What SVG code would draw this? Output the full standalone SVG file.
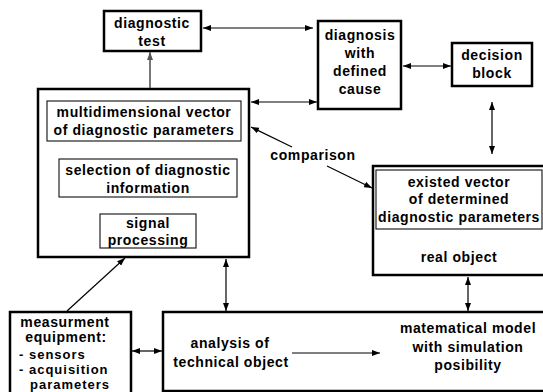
<svg xmlns="http://www.w3.org/2000/svg" width="543" height="392" viewBox="0 0 543 392">
<style>
text{font-family:"Liberation Sans",Arial,sans-serif;font-weight:bold;font-size:14px;letter-spacing:0.6px;fill:#000}
.c{text-anchor:middle}
.s{font-size:13px;letter-spacing:1px}
.box{fill:#fff;stroke:#000;stroke-width:2.5}
.in{fill:none;stroke:#222;stroke-width:1.2}
.ln{fill:none;stroke:#000;stroke-width:1.2}
</style>
<defs>
<marker id="ah" viewBox="0 0 8 6" refX="8" refY="3" markerWidth="8" markerHeight="6" markerUnits="userSpaceOnUse" orient="auto-start-reverse">
<path d="M0,0 L8,3 L0,6 Z" fill="#000"/>
</marker>
<marker id="ahg" viewBox="0 0 8 6" refX="8" refY="3" markerWidth="8" markerHeight="6" markerUnits="userSpaceOnUse" orient="auto">
<path d="M0,0 L8,3 L0,6 Z" fill="#555"/>
</marker>
</defs>
<rect width="543" height="392" fill="#fff"/>

<g id="diagnostic-test">
<rect class="box" x="104" y="11" width="97" height="40" stroke-width="2"/>
<text class="c" x="152" y="28">diagnostic</text>
<text class="c" x="152" y="46">test</text>
</g>

<g id="diagnosis">
<rect class="box" x="318" y="21" width="83" height="88" stroke-width="2"/>
<text class="c" x="360" y="40">diagnosis</text>
<text class="c" x="360" y="58">with</text>
<text class="c" x="360" y="76">defined</text>
<text class="c" x="360" y="94">cause</text>
</g>

<g id="decision-block">
<rect class="box" x="452" y="43" width="80" height="43" stroke-width="2"/>
<text class="c" x="492" y="60">decision</text>
<text class="c" x="492" y="78">block</text>
</g>

<g id="processing-block">
<rect class="box" x="38" y="89" width="211" height="168"/>
<rect class="in" x="47" y="101" width="194" height="40"/>
<text class="c" x="144" y="117">multidimensional vector</text>
<text class="c" x="144" y="135">of diagnostic parameters</text>
<rect class="in" x="59" y="159" width="178" height="38"/>
<text class="c" x="148" y="175">selection of diagnostic</text>
<text class="c" x="148" y="193">information</text>
<rect class="in" x="100" y="214" width="96" height="34"/>
<text class="c" x="148" y="228">signal</text>
<text class="c" x="148" y="245">processing</text>
</g>

<g id="real-object">
<rect class="box" x="373" y="166" width="180" height="109"/>
<rect class="in" x="376" y="170" width="166" height="59"/>
<text class="c" x="459" y="187">existed vector</text>
<text class="c" x="459" y="204">of determined</text>
<text class="c" x="459" y="222">diagnostic parameters</text>
<text class="c" x="459" y="262">real object</text>
</g>

<g id="measurement">
<rect class="box" x="10" y="312" width="121" height="90"/>
<text class="c" x="65" y="327">measurment</text>
<text class="c" x="66" y="342">equipment:</text>
<text class="s" x="19" y="359">- sensors</text>
<text class="s" x="19" y="374">- acquisition</text>
<text class="s" x="30" y="389">parameters</text>
</g>

<g id="analysis">
<rect class="box" x="163" y="312" width="390" height="79"/>
<text class="c" x="230" y="348">analysis of</text>
<text class="c" x="231" y="367">technical object</text>
<text class="c" x="468" y="333">matematical model</text>
<text class="c" x="468" y="352">with simulation</text>
<text class="c" x="468" y="370">posibility</text>
</g>

<g id="comparison-label">
<text class="c" x="313" y="160">comparison</text>
</g>

<g id="connectors">
<line x1="150" y1="88" x2="150" y2="52" stroke="#555" stroke-width="1.6" marker-end="url(#ahg)"/>
<line class="ln" x1="203" y1="28" x2="313" y2="28" marker-start="url(#ah)" marker-end="url(#ah)"/>
<line class="ln" x1="251" y1="102" x2="317" y2="102" marker-start="url(#ah)" marker-end="url(#ah)"/>
<line class="ln" x1="403" y1="66" x2="451" y2="66" marker-start="url(#ah)" marker-end="url(#ah)"/>
<line class="ln" x1="492" y1="102" x2="492" y2="154" marker-start="url(#ah)" marker-end="url(#ah)"/>
<line class="ln" x1="292" y1="147" x2="251" y2="127" marker-end="url(#ah)"/>
<line class="ln" x1="327" y1="166" x2="372" y2="188" marker-end="url(#ah)"/>
<line class="ln" x1="67" y1="311" x2="125" y2="258" marker-end="url(#ah)"/>
<line class="ln" x1="226" y1="259" x2="226" y2="311" marker-start="url(#ah)" marker-end="url(#ah)"/>
<line class="ln" x1="468" y1="277" x2="468" y2="311" marker-start="url(#ah)" marker-end="url(#ah)"/>
<line class="ln" x1="132" y1="351" x2="162" y2="351" marker-start="url(#ah)" marker-end="url(#ah)"/>
<line class="ln" x1="292" y1="353" x2="380" y2="353" marker-end="url(#ah)"/>
</g>
</svg>
